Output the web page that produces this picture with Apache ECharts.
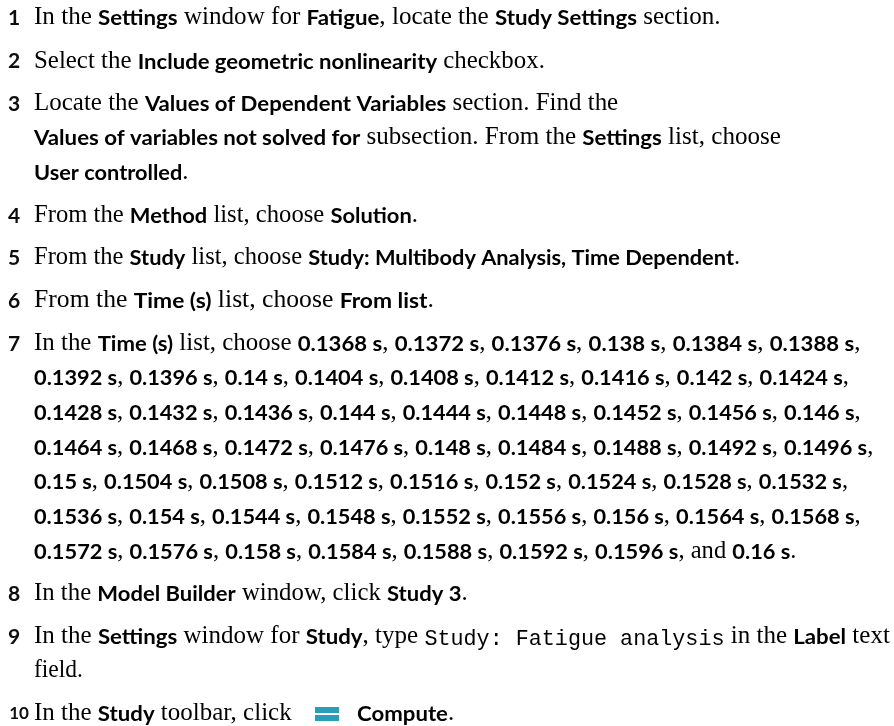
<!DOCTYPE html>
<html><head><meta charset="utf-8">
<style>html,body{margin:0;padding:0;background:#fff;overflow:hidden}#c{width:894px;height:726px}</style>
<script src="https://cdn.jsdelivr.net/npm/echarts@6/dist/echarts.min.js"></script>
</head><body><div id="c"></div>
<script>
// ** = bold sans, ` = monospace, ~ = icon gap
const stepNumbers = ['1','2','3','','','4','5','6','7','','','','','','','8','9','','10'];
const textLines = [
 'In the **Settings** window for **Fatigue**, locate the **Study Settings** section.',
 'Select the **Include geometric nonlinearity** checkbox.',
 'Locate the **Values of Dependent Variables** section. Find the',
 '**Values of variables not solved for** subsection. From the **Settings** list, choose',
 '**User controlled**.',
 'From the **Method** list, choose **Solution**.',
 'From the **Study** list, choose **Study: Multibody Analysis, Time Dependent**.',
 'From the **Time (s)** list, choose **From list**.',
 'In the **Time (s)** list, choose **0.1368 s**, **0.1372 s**, **0.1376 s**, **0.138 s**, **0.1384 s**, **0.1388 s**,',
 '**0.1392 s**, **0.1396 s**, **0.14 s**, **0.1404 s**, **0.1408 s**, **0.1412 s**, **0.1416 s**, **0.142 s**, **0.1424 s**,',
 '**0.1428 s**, **0.1432 s**, **0.1436 s**, **0.144 s**, **0.1444 s**, **0.1448 s**, **0.1452 s**, **0.1456 s**, **0.146 s**,',
 '**0.1464 s**, **0.1468 s**, **0.1472 s**, **0.1476 s**, **0.148 s**, **0.1484 s**, **0.1488 s**, **0.1492 s**, **0.1496 s**,',
 '**0.15 s**, **0.1504 s**, **0.1508 s**, **0.1512 s**, **0.1516 s**, **0.152 s**, **0.1524 s**, **0.1528 s**, **0.1532 s**,',
 '**0.1536 s**, **0.154 s**, **0.1544 s**, **0.1548 s**, **0.1552 s**, **0.1556 s**, **0.156 s**, **0.1564 s**, **0.1568 s**,',
 '**0.1572 s**, **0.1576 s**, **0.158 s**, **0.1584 s**, **0.1588 s**, **0.1592 s**, **0.1596 s**, and **0.16 s**.',
 'In the **Model Builder** window, click **Study 3**.',
 'In the **Settings** window for **Study**, type `Study: Fatigue analysis` in the **Label** text',
 'field.',
 'In the **Study** toolbar, click ~**Compute**.'
];
const lineCentres = [18,61.5,104,138,173,216,258,301,344,378,413,448,482,517,552,594,637,671,713.5];
const lineStretch = [1.024,1.016,1.019,1.023,1,1.006,1.003,1.047,1.017,1.001,1,1,1,1,1.003,1.012,1.021,0.96,1.02];
const esc = s => s.replace(/[{}|]/g,'');
function toRich(line){
  return line.split(/(\*\*[^*]+\*\*|`[^`]+`|~)/).filter(Boolean).map(p=>{
    if(p==='~') return '{gap| }';
    if(p.startsWith('**')) return '{b|'+esc(p.slice(2,-2))+'}';
    if(p.startsWith('`')) return '{m|'+esc(p.slice(1,-1))+'}';
    return '{r|'+esc(p)+'}';
  }).join('');
}
const rich = {
  r:{fontFamily:'"Liberation Serif"',fontSize:24.5,color:'#222'},
  b:{fontFamily:'Lato',fontWeight:700,fontSize:21.75,color:'#0d0d0d'},
  m:{fontFamily:'"Liberation Mono"',fontSize:21.3,color:'#111',padding:[5,0,0,0]},
  gap:{width:58,fontSize:15}
};
const elements = [];
textLines.forEach((l,i)=>{
  elements.push({type:'text',x:34,y:lineCentres[i],scaleX:lineStretch[i],style:{rich,text:toRich(l),verticalAlign:'middle',align:'left'}});
  if(stepNumbers[i]) elements.push({type:'text',x:stepNumbers[i].length>1?19:14,y:lineCentres[i],style:{text:stepNumbers[i],fontFamily:'Lato',fontWeight:700,fontSize:stepNumbers[i].length>1?17:21,fill:'#0d0d0d',align:'center',verticalAlign:'middle'}});
});
elements.push({type:'rect',shape:{x:315,y:707,width:24,height:6},style:{fill:'#2a9dbb'}});
elements.push({type:'rect',shape:{x:315,y:715,width:24,height:6},style:{fill:'#2a9dbb'}});
const chart = echarts.init(document.getElementById('c'),null,{renderer:'canvas'});
chart.setOption({backgroundColor:'#fff',animation:false,graphic:{elements}});
</script></body></html>
